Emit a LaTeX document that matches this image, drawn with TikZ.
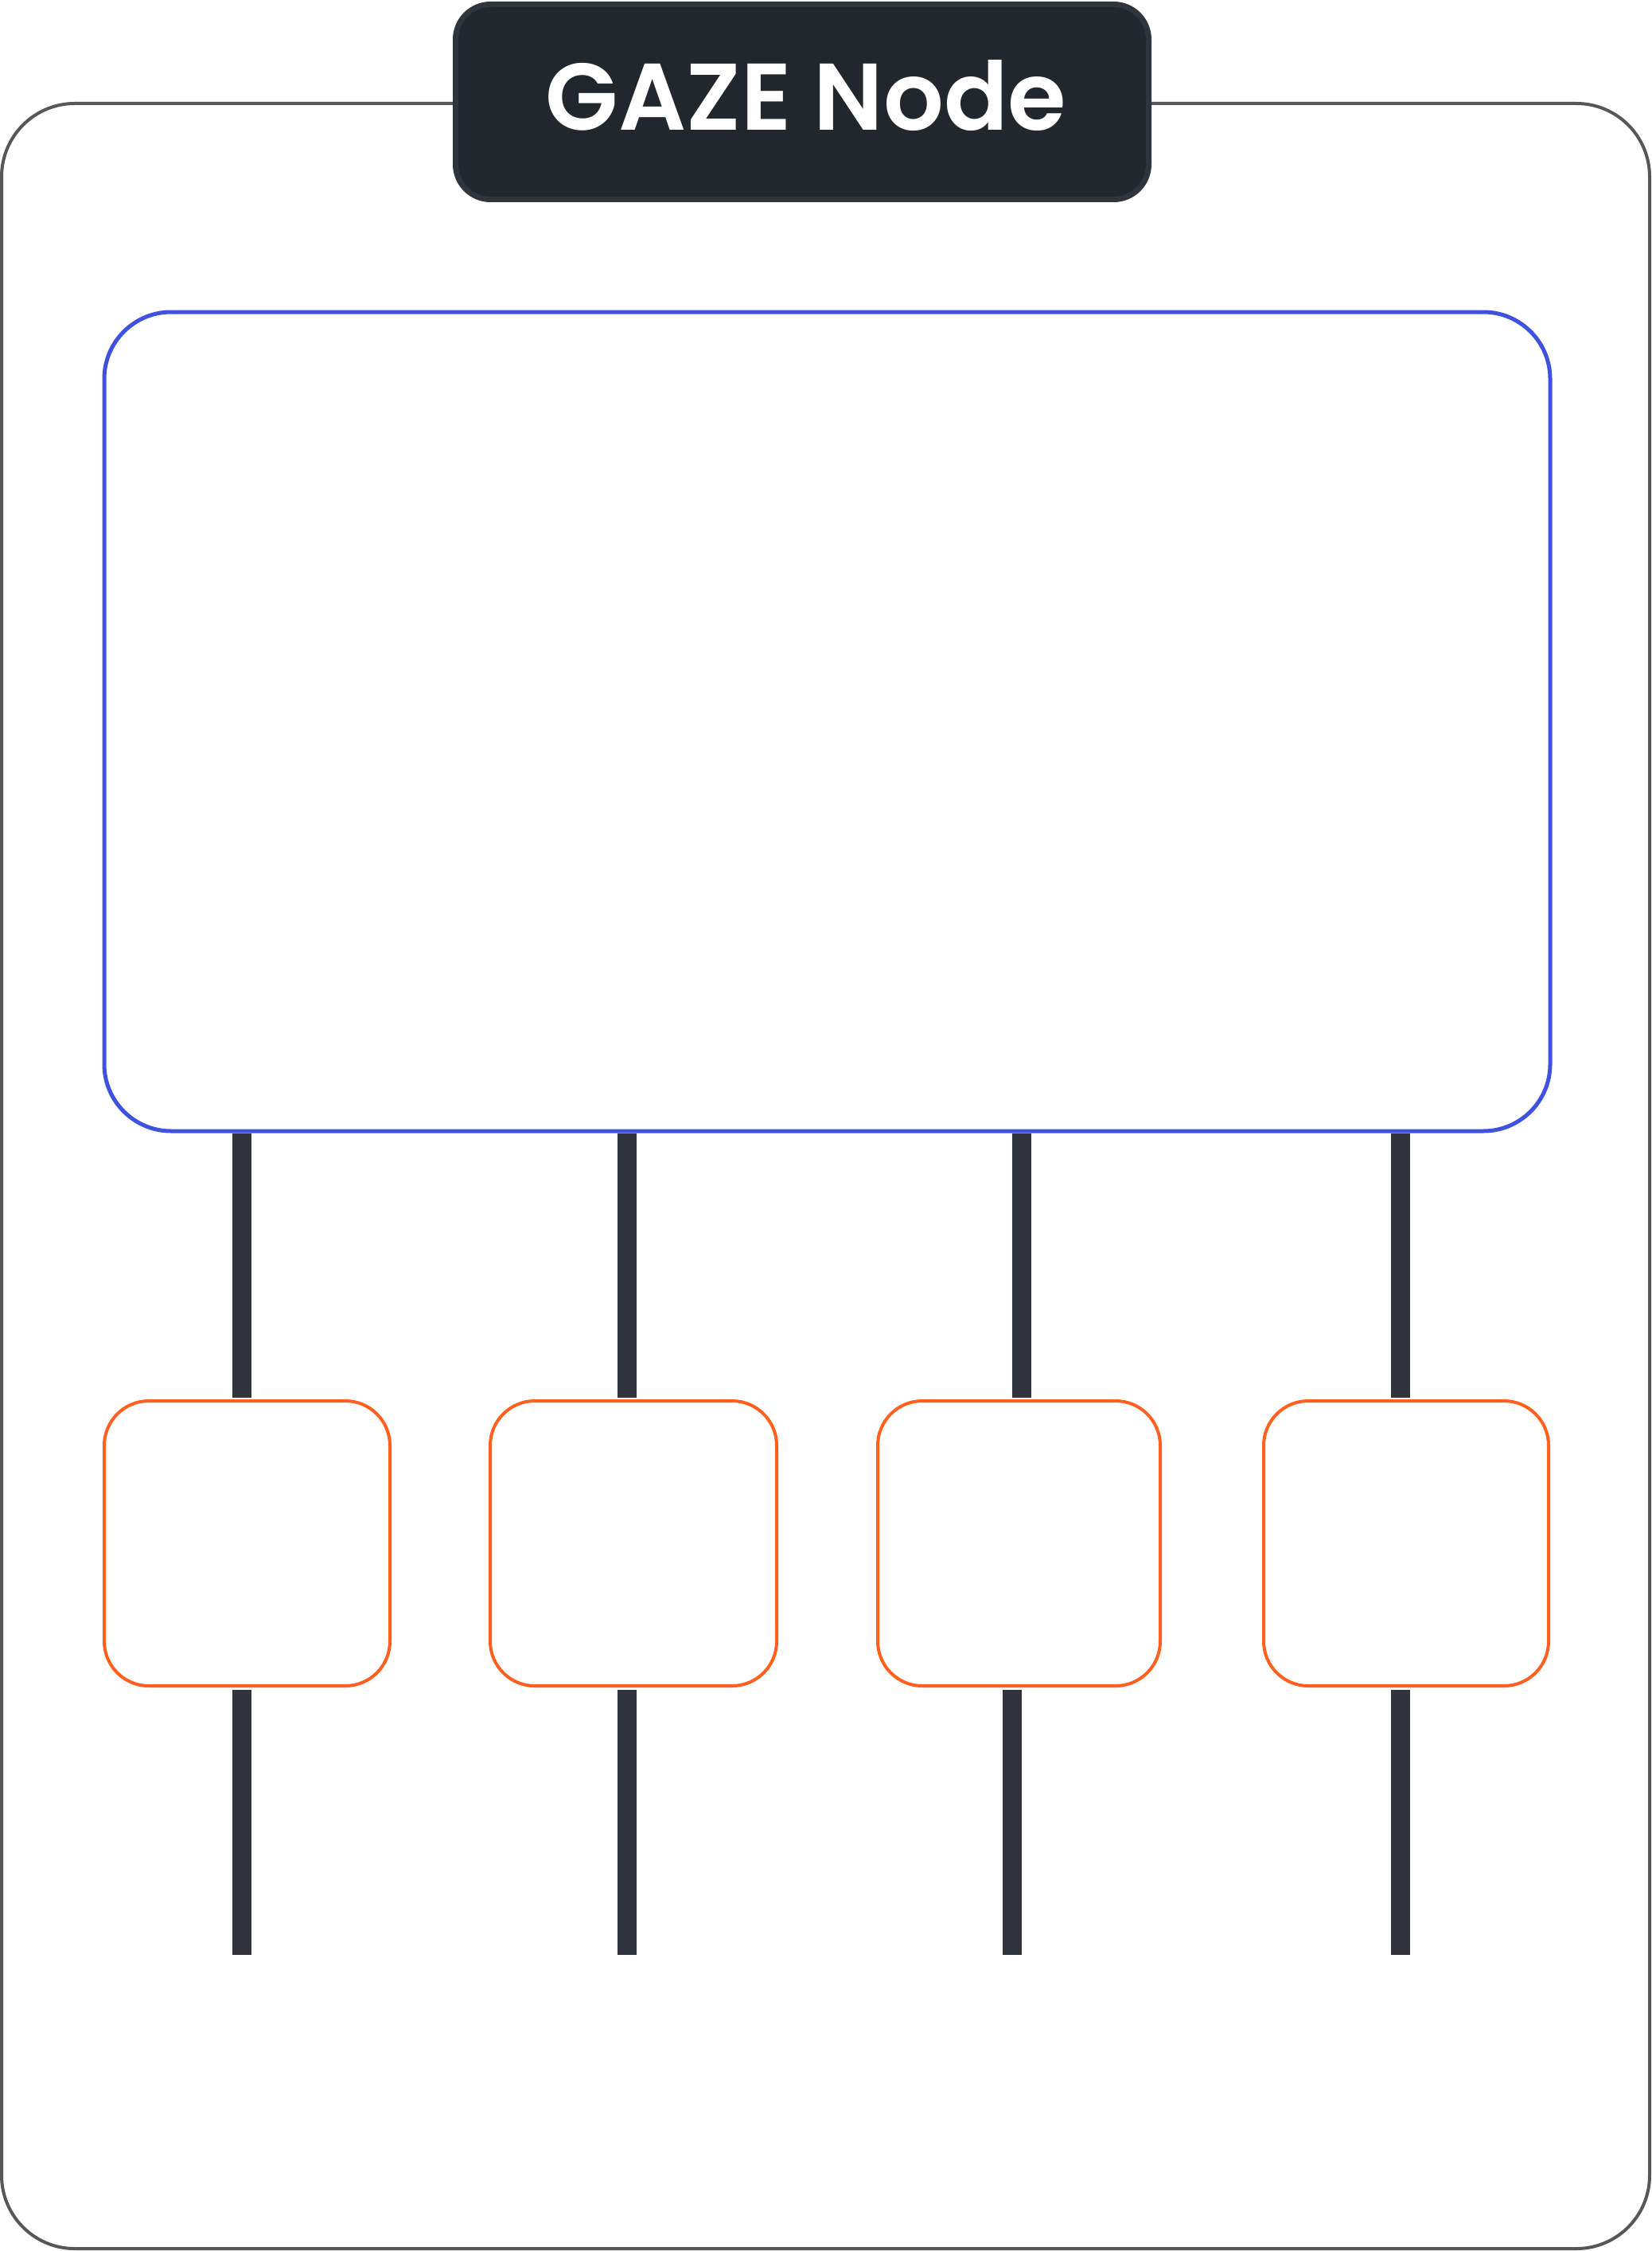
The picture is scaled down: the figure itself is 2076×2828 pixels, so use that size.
\documentclass[tikz,border=0pt]{standalone}
\usepackage{fontspec}
\setmainfont{Poppins}[BoldFont={Poppins SemiBold}]
\usetikzlibrary{calc}
\definecolor{outergray}{HTML}{575757}
\definecolor{titlefill}{HTML}{22262D}
\definecolor{titleedge}{HTML}{30353D}
\definecolor{bluebox}{HTML}{3F51E0}
\definecolor{orangebox}{HTML}{FF5F1F}
\definecolor{stemcol}{HTML}{30333B}
\tikzset{
  outerbox/.style={draw=outergray, line width=4pt, rounded corners=92pt, inner sep=0pt, outer sep=0pt},
  titlebox/.style={draw=titleedge, fill=titlefill, line width=7pt, rounded corners=44pt, inner sep=0pt, outer sep=0pt},
  mainbox/.style={draw=bluebox, line width=5pt, rounded corners=84pt, inner sep=0pt, outer sep=0pt},
  subbox/.style={draw=orangebox, line width=4pt, rounded corners=56pt, inner sep=0pt, outer sep=0pt, minimum height=358pt},
  stemline/.style={draw=stemcol, line width=24pt},
  titletext/.style={text=white, inner sep=0pt, font=\fontsize{119}{119}\selectfont\bfseries}
}
\begin{document}
\begin{tikzpicture}[x=1pt,y=-1pt]
\useasboundingbox (0,0) rectangle (2076,2828);
\fill[white] (0,0) rectangle (2076,2828);
% outer container
\node[outerbox, minimum width=2071pt, minimum height=2695pt] (outer) at (1037.5,1477.5) {};
% title
\node[titlebox, minimum width=871pt, minimum height=245pt] (title) at (1008,128) {};
\node[titletext, anchor=base] (titlelabel) at (1013,164) {GAZE Node};
% main box
\node[mainbox, minimum width=1817pt, minimum height=1029pt] (blue) at (1039.5,906.5) {};
% sub boxes
\node[subbox, minimum width=359pt] (o1) at (310.5,1939) {};
\node[subbox, minimum width=360pt] (o2) at (796,1939) {};
\node[subbox, minimum width=355pt] (o3) at (1280.5,1939) {};
\node[subbox, minimum width=358pt] (o4) at (1767,1939) {};
% stem x positions
\coordinate (c1) at (304,0);
\coordinate (c2) at (788,0);
\coordinate (c3) at (1284,0);
\coordinate (c3b) at (1272,0);
\coordinate (c4) at (1760,0);
% lower stem ends
\coordinate (e1) at (304,2456);
\coordinate (e2) at (788,2456);
\coordinate (e3) at (1272,2456);
\coordinate (e4) at (1760,2456);
% upper stems
\draw[stemline] ($(blue.south -| c1)+(0,2.5)$) -- ($(o1.north -| c1)+(0,-4)$);
\draw[stemline] ($(blue.south -| c2)+(0,2.5)$) -- ($(o2.north -| c2)+(0,-4)$);
\draw[stemline] ($(blue.south -| c3)+(0,2.5)$) -- ($(o3.north -| c3)+(0,-4)$);
\draw[stemline] ($(blue.south -| c4)+(0,2.5)$) -- ($(o4.north -| c4)+(0,-4)$);
% lower stems
\draw[stemline] ($(o1.south -| c1)+(0,5)$) -- (e1);
\draw[stemline] ($(o2.south -| c2)+(0,5)$) -- (e2);
\draw[stemline] ($(o3.south -| c3b)+(0,5)$) -- (e3);
\draw[stemline] ($(o4.south -| c4)+(0,5)$) -- (e4);
\end{tikzpicture}
\end{document}
